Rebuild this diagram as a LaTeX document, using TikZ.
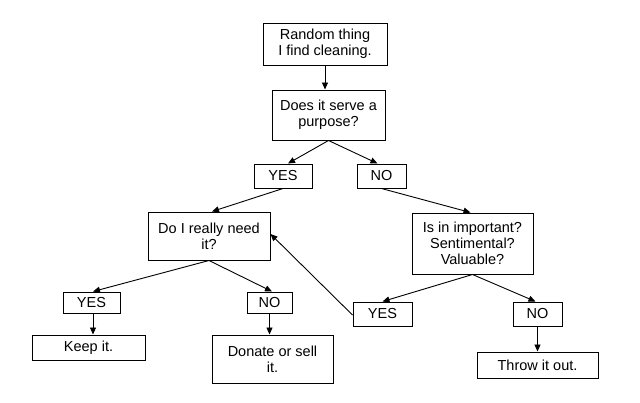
\documentclass[tikz,border=0pt]{standalone}
\usepackage{fontspec}
\setmainfont{Liberation Sans}
\usetikzlibrary{arrows.meta,positioning}
\tikzset{
  box/.style={draw=black, line width=1pt, fill=white, align=center, inner sep=0pt,
    font=\fontsize{14.5}{16}\selectfont},
  conn/.style={draw=black, line width=0.9pt, -{Triangle[length=7pt,width=6pt]}}
}
\begin{document}
\begin{tikzpicture}[x=1pt,y=-1pt]
\useasboundingbox[fill=white] (0,0) rectangle (640,402);
\node[box, minimum width=124pt, minimum height=42pt] (b1) at (325,44) {Random thing\\I find cleaning.};
\node[box, minimum width=113pt, minimum height=50pt] (b2) at (328.5,115) {Does it serve a\\purpose?};
\node[box, minimum width=58pt, minimum height=24pt] (yes1) at (283,176) {YES};
\node[box, minimum width=49pt, minimum height=24pt] (no1) at (381.5,176) {NO};
\node[box, minimum width=122pt, minimum height=48pt] (need) at (209,236) {Do I really need\\it?};
\node[box, minimum width=121pt, minimum height=61pt] (imp) at (472.5,243.5) {Is in important?\\Sentimental?\\Valuable?};
\node[box, minimum width=57pt, minimum height=21pt] (yes2) at (91.5,302.5) {YES};
\node[box, minimum width=45pt, minimum height=21pt] (no2) at (269.5,302.5) {NO};
\node[box, minimum width=59pt, minimum height=24pt] (yes3) at (382.5,314) {YES};
\node[box, minimum width=49pt, minimum height=24pt] (no3) at (537.5,314) {NO};
\node[box, minimum width=113pt, minimum height=25pt] (keep) at (88.5,347.5) {Keep it.};
\node[box, minimum width=121pt, minimum height=48pt] (donate) at (272.5,359) {Donate or sell\\it.};
\node[box, minimum width=121pt, minimum height=26pt] (throw) at (537.5,365) {Throw it out.};

\draw[conn] (b1.south) -- (b2.north -| b1.south);
\draw[conn] (b2.south) -- ([xshift=5pt]yes1.north);
\draw[conn] (b2.south) -- ([xshift=-4pt]no1.north);
\draw[conn] (yes1.south) -- ([xshift=3pt]need.north);
\draw[conn] (no1.south) -- ([xshift=-2pt]imp.north);
\draw[conn] (imp.south) -- (yes3.north);
\draw[conn] (imp.south) -- ([xshift=-2pt]no3.north);
\draw[conn] ([yshift=-1pt]yes3.west) -- ([yshift=2pt]need.east);
\draw[conn] (need.south) -- ([xshift=1.5pt]yes2.north);
\draw[conn] (need.south) -- ([xshift=2.5pt]no2.north);
\draw[conn] ([xshift=1.5pt]yes2.south) -- ([xshift=1.5pt]yes2.south |- keep.north);
\draw[conn] (no2.south) -- (no2.south |- donate.north);
\draw[conn] (no3.south) -- (no3.south |- throw.north);
\end{tikzpicture}
\end{document}
